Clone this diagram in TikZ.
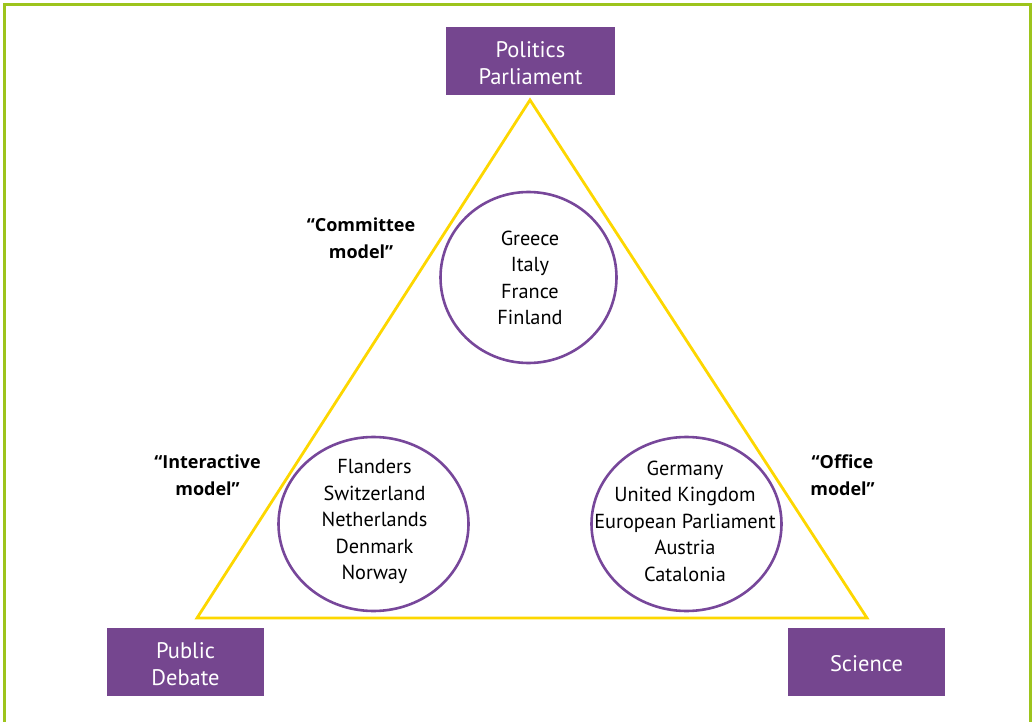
\documentclass[tikz,border=0pt]{standalone}
\usepackage{fontspec}
\setmainfont{PT Sans}
\newfontfamily\labelfont{Open Sans}
\begin{document}
\begin{tikzpicture}[x=1pt,y=-1pt,
  corner/.style={fill=boxpurple, minimum width=#1, minimum height=68pt, inner sep=0pt},
  corner/.default=157pt,
  cornertext/.style={text=white, inner sep=0pt, align=center, font=\fontsize{22.5}{26.5}\selectfont},
  members/.style={align=center, font=\fontsize{20.3}{26.5}\selectfont, text=black},
  model/.style={align=center, font=\labelfont\bfseries\fontsize{18}{27}\selectfont, text=black}]
\definecolor{boxpurple}{HTML}{75468F}
\definecolor{ringpurple}{HTML}{77479A}
\definecolor{tri}{HTML}{FDD700}
\definecolor{frame}{HTML}{9DC41C}
\useasboundingbox (0,0) rectangle (1036,722);
\begin{scope}
\clip (0,0) rectangle (1036,722);
\draw[frame, line width=3pt] (4.5,5) rectangle (1030.5,760);
\end{scope}
% triangle
\coordinate (apex) at (530,100);
\coordinate (bl) at (197,618);
\coordinate (br) at (867,618);
\draw[tri, line width=2.8pt, line join=miter] (apex) -- (br) -- (bl) -- cycle;
% corner boxes
\node[corner=169pt] (pol) at (530.5,61) {};
\node[cornertext] (polt) at ([yshift=-2pt]pol.center) {Politics\\Parliament};
\node[corner] (pub) at (185.5,662) {};
\node[cornertext] (pubt) at ([yshift=-2pt]pub.center) {Public\\Debate};
\node[corner] (sci) at (866.5,662) {};
\node[cornertext] (scit) at ([yshift=-2pt]sci.center) {Science};
% circles
\draw[ringpurple, line width=2.6pt] (528.5,277.5) ellipse [x radius=88, y radius=85.5];
\draw[ringpurple, line width=2.6pt] (373.5,524) ellipse [x radius=95, y radius=87];
\draw[ringpurple, line width=2.6pt] (686.5,524) ellipse [x radius=95, y radius=87];
\node[members] (top) at (530,278) {Greece\\Italy\\France\\Finland};
\node[members] (left) at (374.5,521.5) {Flanders\\Switzerland\\Netherlands\\Denmark\\Norway};
\node[members] (right) at (685,521) {Germany\\United Kingdom\\European Parliament\\Austria\\Catalonia};
% model labels
\node[model] (comm) at (361,238) {“Committee\\model”};
\node[model] (inter) at (207.5,475) {“Interactive\\model”};
\node[model] (off) at (842.5,475) {“Office\\model”};
\end{tikzpicture}
\end{document}
